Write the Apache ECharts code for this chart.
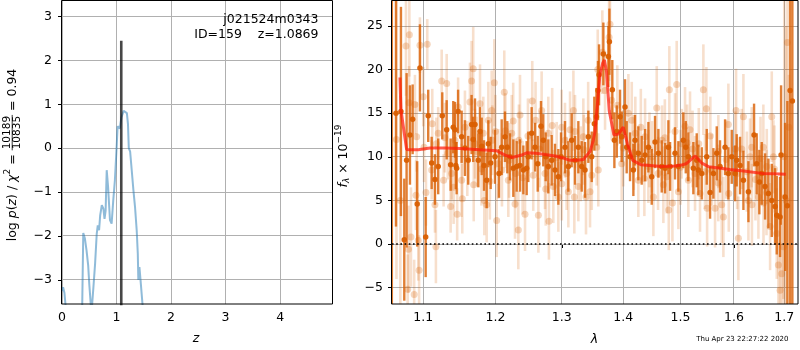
<!DOCTYPE html>
<html><head><meta charset="utf-8">
<script src="https://cdn.jsdelivr.net/npm/echarts@6/dist/echarts.min.js"></script>
<style>html,body{margin:0;padding:0;background:#fff}#c{width:800px;height:350px}</style>
</head><body><div id="c"></div>
<script>
// ---------- left panel: log p(z) ----------
const pzZ = [0, 0.02, 0.045, 0.07, 0.12, 0.3, 0.36, 0.39, 0.42, 0.45, 0.48, 0.50, 0.53, 0.54, 0.55, 0.576, 0.607, 0.637, 0.656, 0.68, 0.70, 0.73, 0.76, 0.78, 0.80, 0.82, 0.845, 0.88, 0.91, 0.94, 0.97, 1.005, 1.02, 1.04, 1.06, 1.09, 1.13, 1.16, 1.19, 1.21, 1.225, 1.25, 1.27, 1.31, 1.34, 1.37, 1.39, 1.40, 1.42, 1.44, 1.476, 1.52, 1.6];
const pzLogp = [-3.25, -3.17, -3.3, -3.65, -5, -5, -4.5, -1.93, -2.06, -2.33, -2.67, -3.09, -3.6, -3.8, -3.6, -3.17, -2.63, -1.95, -1.76, -1.87, -1.53, -1.30, -1.38, -1.61, -1.42, -0.50, -0.88, -1.64, -1.72, -1.19, -0.73, 0.1, 0.5, 0.52, 0.45, 0.70, 0.85, 0.88, 0.80, 0.55, 0.0, -0.08, -0.1, -0.96, -1.35, -1.87, -2.4, -3.0, -2.71, -3.0, -3.55, -4.5, -6];
const zBest = 1.0869;
const zLineTop = 2.45;
const leftXTicks = [0, 1, 2, 3, 4];
const leftYTicks = [-3, -2, -1, 0, 1, 2, 3];

// ---------- right panel: spectrum ----------
const rightXTicks = [1.1, 1.2, 1.3, 1.4, 1.5, 1.6, 1.7];
const rightYTicks = [-5, 0, 5, 10, 15, 20, 25];

const darkLam = [1.0591,1.0644,1.0708,1.0751,1.0781,1.0825,1.0860,1.0920,1.0956,1.1032,1.1066,1.1112,1.1156,1.1200,1.1255,1.1315,1.1369,1.1405,1.1429,1.1441,1.1452,1.1472,1.1521,1.1567,1.1613,1.1660,1.1683,1.1708,1.1755,1.1779,1.1803,1.1836,1.1874,1.1898,1.1932,1.1994,1.2052,1.2091,1.2139,1.2173,1.2213,1.2262,1.2312,1.2361,1.2411,1.2461,1.2485,1.2536,1.2587,1.2628,1.2678,1.2713,1.2750,1.2790,1.2842,1.2894,1.2946,1.2988,1.3050,1.3103,1.3156,1.3209,1.3262,1.3316,1.3369,1.3423,1.3478,1.3520,1.3555,1.3580,1.3597,1.3668,1.3751,1.3768,1.3817,1.3851,1.3891,1.3946,1.3974,1.4030,1.4058,1.4115,1.4172,1.4200,1.4257,1.4315,1.4373,1.4431,1.4489,1.4547,1.4606,1.4665,1.4724,1.4783,1.4813,1.4902,1.4962,1.5052,1.5096,1.5143,1.5235,1.5297,1.5327,1.5390,1.5483,1.5545,1.5608,1.5671,1.5733,1.5829,1.5892,1.5957,1.6021,1.6053,1.6118,1.6183,1.6281,1.6392,1.6445,1.6497,1.6544,1.6611,1.6678,1.6746,1.6813,1.6847,1.6914,1.6935,1.7017,1.7064,1.7120,1.7167];
const darkFlux = [10.0,15.0,15.2,0.5,9.6,12.5,14.3,4.6,20.2,0.8,14.7,9.3,7.4,8.9,14.7,13.1,9.1,13.4,13.1,9.0,8.7,15.2,12.3,11.0,9.6,13.7,12.0,13.7,9.6,12.9,11.2,9.0,7.3,11.5,9.3,10.0,8.1,11.1,12.3,11.1,10.0,8.7,8.9,9.0,8.5,8.7,10.0,12.7,11.1,9.2,13.5,11.9,10.0,8.9,9.6,8.5,7.7,10.0,11.1,8.9,11.9,9.6,11.1,8.9,8.5,12.3,10.0,13.8,14.6,17.6,19.4,21.8,21.5,23.2,17.7,11.9,12.9,14.6,12.3,15.7,11.1,10.0,8.5,11.9,10.4,9.6,10.2,11.1,7.7,11.7,10.4,8.9,8.7,11.1,8.9,10.4,8.9,11.9,11.1,10.0,8.7,9.6,8.5,8.1,10.0,5.9,8.1,10.4,8.9,11.1,8.1,10.0,8.1,9.6,9.0,7.3,6.0,12.5,9.2,7.1,8.1,6.6,5.8,5.0,4.3,3.3,3.1,10.2,5.4,4.4,17.6,16.4];
const darkErr = [30,13,12,7,10,5.7,4.0,4.9,5.0,4.6,3.0,3.0,2.9,3.2,2.7,3.4,3.0,3.0,3.2,2.7,3.0,2.5,3.0,3.2,2.8,3.4,2.6,3.0,3.1,2.8,3.3,2.9,3.2,2.7,3.0,3.1,2.8,3.2,2.9,3.0,2.7,3.3,2.9,3.0,2.8,3.1,2.9,3.0,2.8,3.2,2.9,3.0,2.8,3.1,2.9,3.0,3.2,2.8,3.0,2.9,3.1,2.8,3.0,2.9,3.2,3.0,2.9,3.1,3.3,3.4,3.5,3.6,3.5,3.8,3.4,3.2,3.0,3.1,2.9,3.2,3.0,2.8,3.0,2.9,3.1,2.8,3.0,2.9,3.2,3.0,2.8,3.0,2.9,3.1,2.8,3.0,2.9,3.2,3.0,2.8,3.0,3.1,2.9,3.0,3.2,3.0,2.9,3.1,3.0,3.2,3.0,3.1,3.2,3.0,3.3,3.4,3.5,3.6,3.5,3.7,3.6,3.8,4.0,4.2,4.4,4.5,4.6,8.0,8.5,12,25,25];

const lightLam = [1.0650,1.0700,1.0773,1.0795,1.0805,1.0813,1.0817,1.0838,1.0880,1.0890,1.0904,1.0913,1.0934,1.0945,1.0956,1.1000,1.1010,1.1036,1.1053,1.1112,1.1156,1.1169,1.1175,1.1200,1.1247,1.1273,1.1315,1.1330,1.1369,1.1383,1.1429,1.1459,1.1472,1.1521,1.1530,1.1637,1.1660,1.1683,1.1690,1.1732,1.1779,1.1826,1.1840,1.1874,1.1898,1.1946,1.1984,1.2018,1.2042,1.2129,1.2188,1.2238,1.2287,1.2336,1.2361,1.2436,1.2545,1.2638,1.2688,1.2790,1.2800,1.2868,1.2946,1.3050,1.3103,1.3183,1.3198,1.3209,1.3262,1.3342,1.3385,1.3450,1.3478,1.3559,1.3576,1.3585,1.3651,1.3696,1.3763,1.3778,1.3806,1.3974,1.4087,1.4144,1.4257,1.4361,1.4373,1.4431,1.4518,1.4577,1.4694,1.4754,1.4790,1.4800,1.4855,1.4902,1.4932,1.4962,1.5083,1.5143,1.5174,1.5266,1.5358,1.5420,1.5476,1.5490,1.5639,1.5765,1.5797,1.5892,1.5900,1.6040,1.6085,1.6183,1.6281,1.6346,1.6350,1.6478,1.6577,1.6580,1.6712,1.6746,1.6847,1.6880,1.6914,1.6948,1.6982,1.7000,1.7040,1.7065,1.7095,
  1.1567,1.1955,1.2145,1.2345,1.1708,1.2095,1.2295,1.2595,1.2739,1.2998,1.3350,1.3076,1.5335,1.5701,1.6025,1.5023,1.5576,1.6313,1.6645,1.6779,1.6060,1.4205,1.4670,1.4495,
  1.1120,1.1290,1.1410,1.1600,1.1800,1.1920,1.2000,1.2200,1.2260,1.2400,1.2480,1.2560,1.2660,1.2750,1.2850,1.2920,1.3000,1.3130,1.3300,1.3420,1.3900,1.4000,1.4180,1.4300,1.4450,1.4600,1.4720,1.5000,1.5120,1.5220,1.5450,1.5550,1.5700,1.5850,1.6150,1.6250,1.6420,1.6520,1.6640,1.6800];
const lightFlux = [12.0,5.0,22.7,-5.2,-0.6,16.2,24.0,0.8,-5.8,16.0,5.6,12.3,0.4,-3.0,22.8,16.9,11.1,5.9,22.9,8.5,4.5,-0.3,11.5,12.7,18.7,7.3,18.4,10.4,4.3,8.1,11.9,3.4,15.7,7.3,5.2,16.3,18.7,20.1,6.8,10.6,16.1,12.7,5.0,4.5,14.2,15.3,18.5,2.7,9.2,17.4,7.3,12.7,4.6,1.6,14.8,3.4,16.4,3.3,15.3,12.7,2.6,6.6,5.4,11.9,6.0,15.3,5.4,12.9,6.6,12.3,5.4,6.0,7.9,11.1,20.0,8.5,22.0,17.6,23.7,25.2,16.5,9.2,15.0,14.2,7.3,7.5,12.3,8.9,5.4,15.6,6.8,7.7,3.9,17.7,4.7,12.9,18.3,6.0,13.5,7.3,13.1,8.1,5.8,17.7,15.5,4.1,4.1,4.5,3.1,13.7,5.8,15.3,0.65,14.6,5.0,11.1,4.5,5.4,11.1,4.7,2.0,14.6,1.2,-2.4,-5.3,-3.4,-0.3,10.0,5.0,23.1,13.4,
  13.4,11.9,13.0,11.9,11.5,8.5,8.1,14.2,8.1,13.4,10.8,8.1,11.5,10.6,10.9,11.5,8.5,10.0,8.9,10.0,8.1,12.7,11.9,10.0,
  13.8,12.2,6.5,9.8,8.6,7.2,12.9,9.6,14.1,7.6,12.4,7.9,10.9,6.3,13.6,9.9,6.9,13.1,9.2,14.2,15.9,11.0,10.5,13.4,10.8,8.1,12.2,8.8,11.6,10.9,8.3,12.4,7.0,9.7,10.9,8.3,7.4,9.8,5.9,8.6];
const lightErr = [16,12,5.7,4.0,5.0,4.2,4.8,5.7,4.0,3.4,4.0,4.0,4.6,4.0,3.2,3.4,4.0,3.8,2.9,3.4,3.2,4.2,3.0,3.0,3.6,3.0,3.4,3.0,3.0,3.0,3.0,3.0,3.4,4.2,4.0,4.5,4.6,4.8,4.2,4.0,4.5,4.2,4.0,4.3,4.4,4.6,5.0,4.2,4.0,4.8,4.2,4.4,4.0,4.5,4.6,4.2,4.6,4.3,4.5,4.2,4.4,4.2,4.0,4.3,4.1,4.6,4.2,4.2,4.0,4.4,4.3,4.1,4.0,4.4,4.6,4.2,4.8,4.5,5.0,5.2,4.6,4.2,4.5,4.4,4.2,4.3,4.4,4.2,4.5,4.8,4.4,4.2,4.6,5.0,4.4,4.4,5.0,4.3,4.5,4.2,4.4,4.3,4.4,5.2,4.8,4.4,4.5,4.4,4.6,4.7,4.4,4.8,4.8,4.9,4.6,4.6,4.7,4.8,4.9,4.8,5.0,5.2,5.2,5.5,5.5,5.6,6.0,25,20,8.0,6.0,
  4.2,4.0,4.3,4.1,4.0,4.2,4.0,4.4,4.1,4.3,4.0,4.2,4.1,4.2,4.3,4.0,4.1,4.4,4.3,4.2,4.1,4.2,4.0,4.1,
  4.0,4.0,4.2,4.3,4.2,4.4,4.2,4.3,4.4,4.2,4.3,4.1,4.4,4.2,4.3,4.1,4.2,4.4,4.3,4.4,4.6,4.4,4.3,4.4,4.3,4.2,4.4,4.3,4.4,4.4,4.3,4.5,4.4,4.5,4.6,4.6,4.7,4.8,4.9,5.0];

const modelLam = [1.0695,1.0708,1.0751,1.0781,1.0825,1.0934,1.1090,1.1290,1.1500,1.1780,1.2019,1.2140,1.2238,1.2331,1.2386,1.2461,1.2600,1.2713,1.2894,1.3050,1.3130,1.3240,1.3342,1.3450,1.3500,1.3531,1.3576,1.3613,1.3660,1.3685,1.3720,1.3765,1.3843,1.3920,1.4000,1.4070,1.4160,1.4300,1.4660,1.4900,1.5015,1.5100,1.5175,1.5270,1.5400,1.5525,1.5920,1.6146,1.6300,1.6550,1.6800,1.7030];
const modelFlux = [19.1,15.4,12.7,10.85,10.8,10.8,11.0,11.0,10.96,10.8,10.7,10.2,9.93,10.1,10.2,10.46,10.4,10.3,10.1,9.8,9.6,9.6,9.7,10.6,11.8,12.9,16.5,19.5,20.8,21.1,19.8,15.3,12.5,12.6,13.4,11.5,9.6,9.1,8.9,8.95,9.05,9.2,9.6,10.1,9.24,8.85,8.55,8.4,8.28,8.1,8.05,8.0];

// ---------- helpers ----------
const FF = '"DejaVu Sans"';
const ORANGE = '#d95f02';
const GRIDC = '#b0b0b0';
const L = Math.log;
const minus = v => String(v).replace('-', '\u2212');

const mctx = document.createElement('canvas').getContext('2d');
function tw(t, font) { mctx.font = font; return mctx.measureText(t).width; }
function txt(t, font, x, y, align) {
  return { type: 'text', x: x, y: y, silent: true,
    style: { text: t, font: font, fill: '#000', align: align, textAlign: align, verticalAlign: 'middle', textVerticalAlign: 'middle' } };
}
function run(pieces, cx, cy) {
  const widths = pieces.map(p => p.frac ? Math.max(tw(p.frac.num, p.font), tw(p.frac.den, p.font)) + 2 : tw(p.t, p.font));
  const total = widths.reduce((a, b) => a + b, 0);
  let x = -total / 2;
  const children = [];
  pieces.forEach((p, i) => {
    const w = widths[i];
    if (p.frac) {
      children.push(txt(p.frac.num, p.font, x + w / 2, -4.8, 'center'));
      children.push(txt(p.frac.den, p.font, x + w / 2, 4.6, 'center'));
      children.push({ type: 'line', silent: true, shape: { x1: x, y1: -0.3, x2: x + w, y2: -0.3 }, style: { stroke: '#000', lineWidth: 0.8 } });
    } else {
      children.push(txt(p.t, p.font, x, p.dy || 0, 'left'));
    }
    x += w;
  });
  return { type: 'group', x: cx, y: cy, rotation: Math.PI / 2, children: children };
}
const N = '12.5px ' + FF, I = 'italic 12.5px ' + FF, S = '9px ' + FF, SI = 'italic 9px ' + FF, FR = '10.5px ' + FF;

function errSeries(lam, flux, err, opacity, width, z) {
  return { type: 'custom', xAxisIndex: 1, yAxisIndex: 1, clip: true, silent: true, z: z,
    encode: { x: 0, y: 1 },
    data: lam.map((l, i) => [L(l), flux[i], err[i]]),
    renderItem: function (params, api) {
      const x = api.value(0), y = api.value(1), e = api.value(2);
      const p1 = api.coord([x, y - e]), p2 = api.coord([x, y + e]);
      return { type: 'line', shape: { x1: p1[0], y1: p1[1], x2: p2[0], y2: p2[1] },
        style: { stroke: ORANGE, lineWidth: width, opacity: opacity } };
    } };
}
function axisCommon(ticks, fmt, margin) {
  return {
    axisLine: { show: false },
    splitLine: { show: false },
    axisTick: { show: true, length: 4, lineStyle: { color: '#000', width: 1 }, customValues: ticks },
    axisLabel: { customValues: ticks, formatter: fmt, color: '#000', fontSize: 12.5, fontFamily: 'DejaVu Sans', margin: margin }
  };
}

const GRIDS = [{ left: 62, top: 1, width: 271, height: 303 }, { left: 392, top: 1, width: 406, height: 303 }];
const chart = echarts.init(document.getElementById('c'), null, { renderer: 'canvas' });
const rXT = rightXTicks.map(L);

const baseGraphic = [
  { type: 'rect', silent: true, z: 100, shape: { x: 61.5, y: 0.5, width: 271, height: 303.5 }, style: { fill: 'none', stroke: '#000', lineWidth: 1 } },
  { type: 'rect', silent: true, z: 100, shape: { x: 391.5, y: 0.5, width: 406.5, height: 303.5 }, style: { fill: 'none', stroke: '#000', lineWidth: 1 } },
  Object.assign(txt('j021524m0343', N, 318.5, 20, 'right'), { z: 100 }),
  Object.assign(txt('ID=159    z=1.0869', N, 318.5, 35, 'right'), { z: 100 }),
  Object.assign(txt('z', I, 196, 339, 'center'), { z: 100 }),
  Object.assign(txt('\u03bb', I, 594.5, 340, 'center'), { z: 100 }),
  Object.assign(txt('Thu Apr 23 22:27:22 2020', '7px ' + FF, 788.5, 339.5, 'right'), { z: 100 }),
  Object.assign(run([
    { t: 'log ', font: N }, { t: 'p', font: I }, { t: '(', font: N }, { t: 'z', font: I }, { t: ')', font: N },
    { t: ' / ', font: N }, { t: '\u03c7', font: I }, { t: '2', font: S, dy: -5 }, { t: ' = ', font: N },
    { frac: { num: '10189', den: '10835' }, font: FR }, { t: ' = 0.94', font: N }
  ], 12.5, 155), { z: 100 }),
  Object.assign(run([
    { t: 'f', font: I }, { t: '\u03bb', font: SI, dy: 3 }, { t: ' \u00d7 10', font: N }, { t: '\u221219', font: S, dy: -4.5 }
  ], 343.5, 156), { z: 100 })
];

chart.setOption({
  animation: false,
  backgroundColor: '#fff',
  grid: GRIDS.map(g => Object.assign({ show: false }, g)),
  xAxis: [
    Object.assign({ type: 'value', gridIndex: 0, min: 0, max: 4.97 }, axisCommon(leftXTicks, v => minus(v), 7)),
    Object.assign({ type: 'value', gridIndex: 1, min: L(1.0593), max: L(1.7284) }, axisCommon(rXT, v => Math.exp(v).toFixed(1), 7))
  ],
  yAxis: [
    Object.assign({ type: 'value', gridIndex: 0, min: -3.55, max: 3.355 }, axisCommon(leftYTicks, v => minus(v), 10)),
    Object.assign({ type: 'value', gridIndex: 1, min: -6.88, max: 27.87 }, axisCommon(rightYTicks, v => minus(v), 9))
  ],
  series: [
    { type: 'line', xAxisIndex: 0, yAxisIndex: 0, data: pzZ.map((z, i) => [z, pzLogp[i]]),
      showSymbol: false, symbol: 'none', clip: true, silent: true, z: 4,
      lineStyle: { color: '#1f77b4', opacity: 0.5, width: 2 } },
    { type: 'line', xAxisIndex: 0, yAxisIndex: 0, data: [[zBest, -10], [zBest, zLineTop]],
      symbol: 'none', clip: true, silent: true, z: 5,
      lineStyle: { color: '#000', opacity: 0.72, width: 2.6 } },
    errSeries(lightLam, lightFlux, lightErr, 0.2, 2.6, 3),
    { type: 'scatter', xAxisIndex: 1, yAxisIndex: 1, silent: true, z: 4, clip: true,
      data: lightLam.map((l, i) => [L(l), lightFlux[i]]), symbolSize: 7,
      itemStyle: { color: ORANGE, opacity: 0.26 } },
    errSeries(darkLam, darkFlux, darkErr, 0.8, 2.4, 5),
    { type: 'scatter', xAxisIndex: 1, yAxisIndex: 1, silent: true, z: 6, clip: true,
      data: darkLam.map((l, i) => [L(l), darkFlux[i]]), symbolSize: 5.5,
      itemStyle: { color: ORANGE, opacity: 0.95 } },
    { type: 'line', xAxisIndex: 1, yAxisIndex: 1, silent: true, z: 7, symbol: 'none', showSymbol: false,
      data: modelLam.map((l, i) => [L(l), modelFlux[i]]),
      lineStyle: { color: '#ff1a0a', opacity: 0.72, width: 3 },
      markLine: { silent: true, z: 8, symbol: ['none', 'none'], label: { show: false }, animation: false,
        emphasis: { disabled: true },
        lineStyle: { color: '#000', width: 1.6, type: [1.6, 2.6], opacity: 1 },
        data: [{ yAxis: 0 }] } }
  ],
  graphic: baseGraphic
});

// grid lines placed through the axes' own scales (convertToPixel), drawn beneath the data as 1px rects
function gridEls(gi, xs, ys) {
  const g = GRIDS[gi], out = [];
  xs.forEach(v => {
    const px = Math.floor(chart.convertToPixel({ xAxisIndex: gi }, v));
    out.push({ type: 'rect', silent: true, z: 1, shape: { x: px, y: g.top, width: 1, height: g.height }, style: { fill: GRIDC, stroke: null } });
  });
  ys.forEach(v => {
    const py = Math.floor(chart.convertToPixel({ yAxisIndex: gi }, v));
    out.push({ type: 'rect', silent: true, z: 1, shape: { x: g.left, y: py, width: g.width, height: 1 }, style: { fill: GRIDC, stroke: null } });
  });
  return out;
}
chart.setOption({ graphic: baseGraphic.concat(gridEls(0, leftXTicks, leftYTicks), gridEls(1, rXT, rightYTicks)) });
</script>
</body></html>
